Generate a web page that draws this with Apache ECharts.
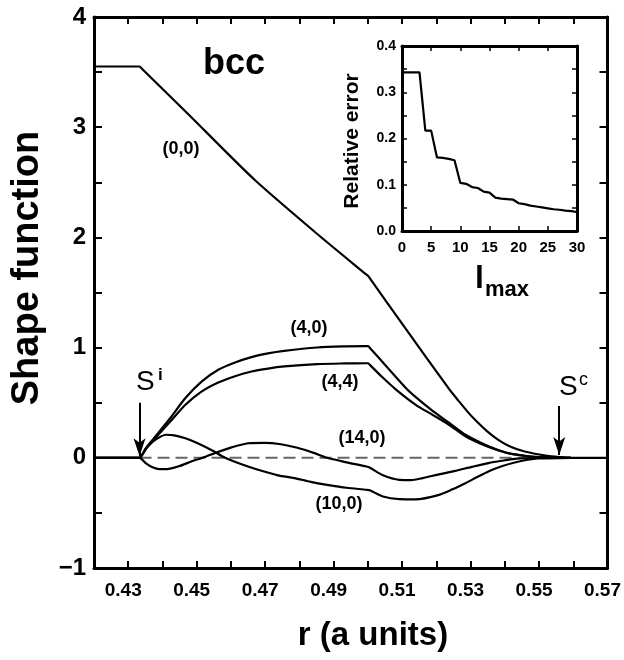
<!DOCTYPE html>
<html><head><meta charset="utf-8">
<script src="https://cdn.jsdelivr.net/npm/echarts@6/dist/echarts.min.js"></script>
<style>html,body{margin:0;padding:0;background:#fff}#c{width:624px;height:660px}</style>
</head><body><div id="c"></div>
<script>
// ---- main chart data: r (a units) and shape function values ----
const r00 = [0.4200,0.4330,0.4333,0.4340,0.4477,0.4669,0.4861,0.4995,0.5001,0.5007,0.5102,0.5237,0.5265,0.5289,0.5313,0.5347,0.5381,0.5417,0.5458,0.5524,0.5564,0.5593,0.5700];
const s00 = [3.551,3.551,3.551,3.530,3.113,2.523,2.008,1.664,1.649,1.624,1.208,0.626,0.517,0.426,0.345,0.245,0.163,0.100,0.057,0.018,0.006,0.000,0.000];

const r40 = [0.4200,0.4330,0.4333,0.4352,0.4371,0.4419,0.4467,0.4515,0.4563,0.4612,0.4660,0.4708,0.4756,0.4852,0.4930,0.4995,0.5001,0.5006,0.5059,0.5116,0.5140,0.5189,0.5237,0.5285,0.5333,0.5371,0.5410,0.5477,0.5524,0.5593];
const s40 = [0,0,0,0.090,0.163,0.345,0.542,0.693,0.799,0.865,0.914,0.948,0.971,1.001,1.011,1.014,1.014,0.997,0.813,0.617,0.550,0.426,0.318,0.209,0.132,0.082,0.043,0.012,0.005,0];

const r44 = [0.4200,0.4330,0.4333,0.4352,0.4371,0.4419,0.4467,0.4515,0.4563,0.4612,0.4660,0.4708,0.4756,0.4852,0.4930,0.4995,0.5001,0.5006,0.5041,0.5083,0.5140,0.5189,0.5237,0.5285,0.5333,0.5371,0.5410,0.5477,0.5524,0.5593];
const s44 = [0,0,0,0.085,0.154,0.315,0.481,0.602,0.683,0.740,0.783,0.810,0.829,0.850,0.856,0.858,0.858,0.843,0.735,0.617,0.481,0.390,0.300,0.195,0.122,0.077,0.041,0.011,0.004,0];

const r140 = [0.4200,0.4330,0.4333,0.4352,0.4371,0.4391,0.4419,0.4448,0.4486,0.4517,0.4563,0.4602,0.4650,0.4698,0.4746,0.4794,0.4842,0.4881,0.4938,0.4996,0.5006,0.5044,0.5092,0.5126,0.5160,0.5208,0.5256,0.5304,0.5352,0.5391,0.5429,0.5496,0.5593];
const s140 = [0,0,0,-0.050,-0.086,-0.103,-0.100,-0.077,-0.032,0,0.054,0.095,0.132,0.136,0.123,0.091,0.045,0,-0.041,-0.079,-0.090,-0.159,-0.200,-0.202,-0.184,-0.150,-0.118,-0.082,-0.048,-0.027,-0.010,-0.002,0];

const r100 = [0.4200,0.4330,0.4333,0.4352,0.4371,0.4391,0.4410,0.4434,0.4467,0.4506,0.4544,0.4583,0.4631,0.4679,0.4737,0.4785,0.4833,0.4881,0.4938,0.4996,0.5006,0.5044,0.5092,0.5140,0.5208,0.5247,0.5285,0.5318,0.5352,0.5391,0.5429,0.5467,0.5496,0.5593];
const s100 = [0,0,0,0.082,0.145,0.186,0.209,0.204,0.177,0.127,0.068,0,-0.059,-0.109,-0.159,-0.184,-0.218,-0.245,-0.272,-0.290,-0.295,-0.351,-0.375,-0.377,-0.336,-0.286,-0.230,-0.177,-0.124,-0.077,-0.043,-0.018,-0.006,0];

const zeroR = [0.4333, 0.5593];
const sI = 0.4333, sC = 0.5559;

// ---- inset data ----
const lmax = [0,1,2,3,4,5,6,7,8,9,10,11,12,13,14,15,16,17,18,19,20,21,22,23,24,25,26,27,28,29,30];
const relErr = [0.343,0.343,0.343,0.343,0.217,0.217,0.159,0.158,0.156,0.153,0.104,0.102,0.095,0.093,0.085,0.083,0.072,0.070,0.069,0.068,0.060,0.058,0.055,0.053,0.051,0.049,0.047,0.046,0.044,0.043,0.041];

const zip = (a,b) => a.map((v,i)=>[v,b[i]]);
const FONT = '"Liberation Sans", Arial, Helvetica, sans-serif';
const BLACK = '#000';

function lineSeries(name, r, s){
  return {name, type:'line', xAxisIndex:0, yAxisIndex:0, data:zip(r,s), showSymbol:false, symbol:'none',
    smooth:0.25,
    lineStyle:{color:BLACK,width:2.2}, z:3, silent:true, animation:false};
}

const tickStyle = (len,w)=>({show:true, inside:true, length:len, lineStyle:{color:BLACK,width:w}});
const lineStyleAxis = {show:true, onZero:false, lineStyle:{color:BLACK,width:3}};

const chart = echarts.init(document.getElementById('c'), null, {renderer:'canvas'});
chart.setOption({
  animation:false,
  backgroundColor:'#fff',
  grid:[
    {left:94, right:10, top:17, bottom:92},
    {left:402, top:46, width:175, height:185}
  ],
  xAxis:[
    {gridIndex:0, type:'value', min:0.42, max:0.57, interval:0.01, position:'bottom',
      axisLine:lineStyleAxis, axisTick:tickStyle(7,2), splitLine:{show:false},
      axisLabel:{show:true, showMinLabel:true, showMaxLabel:true, margin:13, color:BLACK, fontFamily:FONT, fontWeight:'bold', fontSize:19,
        padding:[0,10,0,0],
        formatter:v=>{const k=Math.round(v*100); return (k%2===1)?(k/100).toFixed(2):'';}}},
    {gridIndex:0, type:'value', min:0.42, max:0.57, interval:0.01, position:'top',
      axisLine:lineStyleAxis, axisTick:tickStyle(7,2), splitLine:{show:false}, axisLabel:{show:false}},
    {gridIndex:1, type:'value', min:0, max:30, interval:5, position:'bottom',
      axisLine:lineStyleAxis, axisTick:tickStyle(5,1.5), splitLine:{show:false},
      axisLabel:{show:true, margin:9, color:BLACK, fontFamily:FONT, fontWeight:'bold', fontSize:15}},
    {gridIndex:1, type:'value', min:0, max:30, interval:5, position:'top',
      axisLine:lineStyleAxis, axisTick:tickStyle(5,1.5), splitLine:{show:false}, axisLabel:{show:false}}
  ],
  yAxis:[
    {gridIndex:0, type:'value', min:-1, max:4, interval:0.5, position:'left',
      axisLine:lineStyleAxis, axisTick:tickStyle(8,2), splitLine:{show:false},
      axisLabel:{show:true, margin:8, color:BLACK, fontFamily:FONT, fontWeight:'bold', fontSize:24,
        formatter:v=>{const k=Math.round(v*2); if(k%2!==0) return ''; const n=k/2; return n<0?'\u2212'+(-n):String(n);}}},
    {gridIndex:0, type:'value', min:-1, max:4, interval:0.5, position:'right',
      axisLine:lineStyleAxis, axisTick:tickStyle(8,2), splitLine:{show:false}, axisLabel:{show:false}},
    {gridIndex:1, type:'value', min:0, max:0.4, interval:0.05, position:'left',
      axisLine:lineStyleAxis, axisTick:tickStyle(5,1.5), splitLine:{show:false},
      axisLabel:{show:true, margin:6, color:BLACK, fontFamily:FONT, fontWeight:'bold', fontSize:14,
        formatter:v=>{const k=Math.round(v*20); return (k%2===0)?(k/20).toFixed(1):'';}}},
    {gridIndex:1, type:'value', min:0, max:0.4, interval:0.05, position:'right',
      axisLine:lineStyleAxis, axisTick:tickStyle(5,1.5), splitLine:{show:false}, axisLabel:{show:false}}
  ],
  series:[
    {name:'zero', type:'line', xAxisIndex:0, yAxisIndex:0, data:zeroR.map(r=>[r,0]), showSymbol:false, symbol:'none',
      lineStyle:{color:'#666', width:2, type:[12,6]}, z:2, silent:true,
      markLine:{silent:true, symbol:['none','arrow'], symbolSize:[9,18], label:{show:false},
        lineStyle:{color:BLACK, width:2, type:'solid'},
        data:[
          [{coord:[sI,0.50]},{coord:[sI,0.015]}],
          [{coord:[sC,0.47]},{coord:[sC,0.025]}]
        ]}},
    lineSeries('(0,0)', r00, s00),
    lineSeries('(4,0)', r40, s40),
    lineSeries('(4,4)', r44, s44),
    lineSeries('(14,0)', r140, s140),
    lineSeries('(10,0)', r100, s100),
    {name:'inset', type:'line', xAxisIndex:2, yAxisIndex:2, data:zip(lmax,relErr), showSymbol:false, symbol:'none',
      lineStyle:{color:BLACK,width:2.2}, silent:true}
  ],
  graphic:[
    {type:'text', x:234, y:64, style:{text:'bcc', font:'bold 36px '+FONT, fill:BLACK, textAlign:'center', textVerticalAlign:'middle'}},
    {type:'text', x:181, y:149, style:{text:'(0,0)', font:'bold 18px '+FONT, fill:BLACK, textAlign:'center', textVerticalAlign:'middle'}},
    {type:'text', x:309, y:328, style:{text:'(4,0)', font:'bold 18px '+FONT, fill:BLACK, textAlign:'center', textVerticalAlign:'middle'}},
    {type:'text', x:340, y:382, style:{text:'(4,4)', font:'bold 18px '+FONT, fill:BLACK, textAlign:'center', textVerticalAlign:'middle'}},
    {type:'text', x:362, y:438, style:{text:'(14,0)', font:'bold 18px '+FONT, fill:BLACK, textAlign:'center', textVerticalAlign:'middle'}},
    {type:'text', x:339, y:504, style:{text:'(10,0)', font:'bold 18px '+FONT, fill:BLACK, textAlign:'center', textVerticalAlign:'middle'}},
    {type:'text', x:136, y:382, style:{text:'S', font:'28px '+FONT, fill:BLACK, textAlign:'left', textVerticalAlign:'middle'}},
    {type:'text', x:158, y:375, style:{text:'i', font:'bold 17px '+FONT, fill:BLACK, textAlign:'left', textVerticalAlign:'middle'}},
    {type:'text', x:559, y:387, style:{text:'S', font:'28px '+FONT, fill:BLACK, textAlign:'left', textVerticalAlign:'middle'}},
    {type:'text', x:579, y:380, style:{text:'c', font:'18px '+FONT, fill:BLACK, textAlign:'left', textVerticalAlign:'middle'}},
    {type:'text', x:28, y:268, rotation:Math.PI/2, style:{text:'Shape function', font:'bold 38px '+FONT, fill:BLACK, textAlign:'center', textVerticalAlign:'middle'}},
    {type:'text', x:373, y:636, style:{text:'r (a units)', font:'bold 33px '+FONT, fill:BLACK, textAlign:'center', textVerticalAlign:'middle'}},
    {type:'text', x:352, y:141, rotation:Math.PI/2, style:{text:'Relative error', font:'bold 21px '+FONT, fill:BLACK, textAlign:'center', textVerticalAlign:'middle'}},
    {type:'text', x:475, y:295, style:{text:'l', font:'bold 32px '+FONT, fill:BLACK, textAlign:'left', textVerticalAlign:'bottom'}},
    {type:'text', x:485, y:301, style:{text:'max', font:'bold 22px '+FONT, fill:BLACK, textAlign:'left', textVerticalAlign:'bottom'}}
  ]
});
</script>
</body></html>
